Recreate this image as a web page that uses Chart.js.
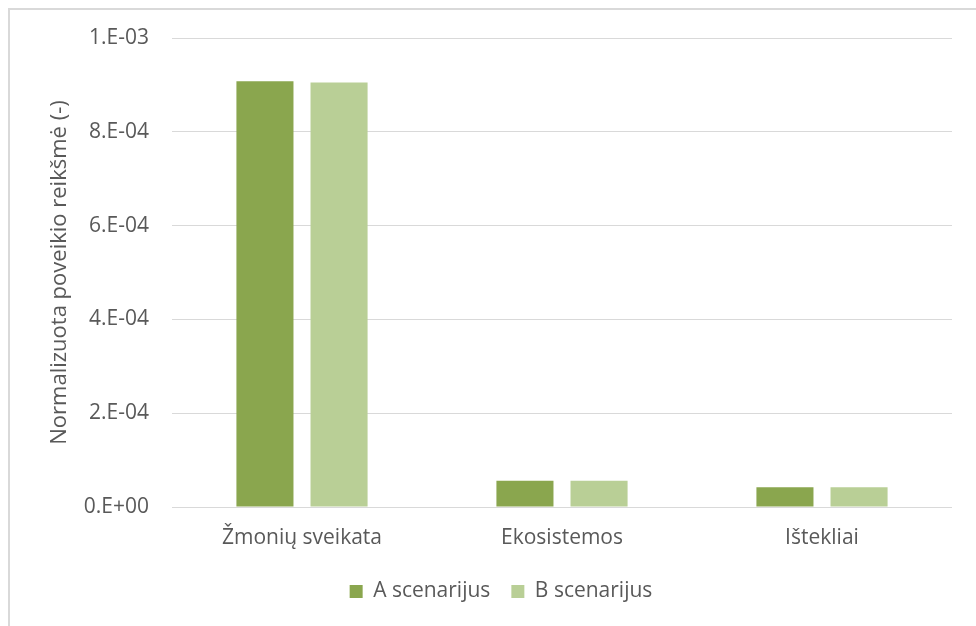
<!DOCTYPE html>
<html>
<head>
<meta charset="utf-8">
<script src="https://cdn.jsdelivr.net/npm/chart.js@4"></script>
<style>
  html, body { margin: 0; padding: 0; background: #fff; }
  body { width: 976px; height: 626px; position: relative; overflow: hidden; }
  .frame { position: absolute; left: 8px; top: 8px; width: 990px; height: 640px; border: 2px solid #d9d9d9; box-sizing: border-box; }
  #chart { position: absolute; left: 0; top: 0; }
</style>
</head>
<body>
<div class="frame"></div>
<canvas id="chart" width="976" height="626"></canvas>
<script>
const categories = ['Žmonių sveikata', 'Ekosistemos', 'Ištekliai'];
const scenarioA = [9.08e-4, 5.6e-5, 4.2e-5];
const scenarioB = [9.05e-4, 5.6e-5, 4.2e-5];
const seriesNames = ['A scenarijus', 'B scenarijus'];
const yTicks = [0, 2e-4, 4e-4, 6e-4, 8e-4, 1e-3];

const textColor = '#595959';
const fontFamily = "'Open Sans', sans-serif";

// Excel style scientific labels: 8.E-04, 0.E+00
const sciLabel = (v) => {
    if (Math.abs(v) < 1e-12) return '0.E+00';
    const parts = Number(v).toExponential(0).split('e');
    const exp = parseInt(parts[1], 10);
    const sign = exp < 0 ? '-' : '+';
    return parts[0] + '.E' + sign + String(Math.abs(exp)).padStart(2, '0');
};

Chart.defaults.font.family = fontFamily;
Chart.defaults.color = textColor;

new Chart(document.getElementById('chart'), {
    type: 'bar',
    data: {
        labels: categories,
        datasets: [
            {
                label: seriesNames[0],
                data: scenarioA,
                backgroundColor: '#8aa64e',
                borderWidth: 0
            },
            {
                label: seriesNames[1],
                data: scenarioB,
                backgroundColor: '#b9cf96',
                borderWidth: 0
            }
        ]
    },
    options: {
        responsive: false,
        animation: false,
        events: [],
        categoryPercentage: 0.57,
        barPercentage: 0.77,
        layout: {
            // left padding also pushes the legend a little right of centre
            padding: { left: 50, top: 38, right: 24, bottom: 14 }
        },
        plugins: {
            legend: {
                position: 'bottom',
                labels: {
                    boxWidth: 13,
                    boxHeight: 13,
                    padding: 21,
                    color: textColor,
                    font: { size: 21 }
                }
            },
            tooltip: { enabled: false }
        },
        scales: {
            x: {
                grid: { display: false },
                border: { display: false },
                ticks: {
                    padding: 10,
                    color: textColor,
                    font: { size: 21 }
                },
                afterFit: (scale) => { scale.height = 53; }
            },
            y: {
                min: 0,
                max: 1e-3,
                afterBuildTicks: (scale) => {
                    scale.ticks = yTicks.map(v => ({ value: v }));
                },
                grid: {
                    color: '#d9d9d9',
                    lineWidth: 1,
                    drawTicks: false
                },
                border: { display: false },
                ticks: {
                    padding: 23,
                    color: textColor,
                    font: { size: 21 },
                    callback: (v) => sciLabel(v)
                },
                title: {
                    display: true,
                    text: 'Normalizuota poveikio reikšmė (-)',
                    color: textColor,
                    font: { size: 22 },
                    padding: { top: -3 }
                },
                afterFit: (scale) => { scale.width = 122; }
            }
        }
    }
});
</script>
</body>
</html>
